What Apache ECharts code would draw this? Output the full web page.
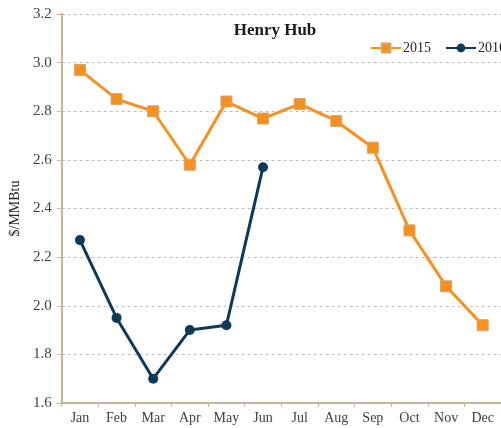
<!DOCTYPE html>
<html>
<head>
<meta charset="utf-8">
<script src="https://cdn.jsdelivr.net/npm/echarts@6/dist/echarts.min.js"></script>
<style>
  html, body { margin: 0; padding: 0; background: #fff; }
  #main { width: 501px; height: 428px; }
</style>
</head>
<body>
<div id="main"></div>
<script>
// 月份
var months = ["Jan", "Feb", "Mar", "Apr", "May", "Jun", "Jul", "Aug", "Sep", "Oct", "Nov", "Dec"];
// Henry Hub 价格 $/MMBtu
var price2015 = [2.97, 2.85, 2.80, 2.58, 2.84, 2.77, 2.83, 2.76, 2.65, 2.31, 2.08, 1.92];
var price2016 = [2.27, 1.95, 1.70, 1.90, 1.92, 2.57];
var yTicks = { min: 1.6, max: 3.2, interval: 0.2 };

var serif = "Liberation Serif";
var chart = echarts.init(document.getElementById("main"));

var legendText = { fontFamily: serif, fontSize: 14, color: "#262626", padding: [0, 0, 0, -3] };

var option = {
  animation: false,
  textStyle: { fontFamily: serif },
  title: {
    text: "Henry Hub",
    left: 270,
    textAlign: "center",
    top: 17,
    textStyle: { fontFamily: serif, fontSize: 17, fontWeight: "bold", color: "#1a1a1a" }
  },
  // 两个图例分开放，避免被挤成竖排
  legend: [
    {
      left: 365,
      top: 36,
      itemWidth: 30,
      itemHeight: 11,
      textStyle: legendText,
      data: ["2015"]
    },
    {
      left: 440,
      top: 36,
      itemWidth: 30,
      itemHeight: 11,
      textStyle: legendText,
      data: ["2016"]
    }
  ],
  grid: {
    left: 61,
    right: -6,
    top: 14,
    bottom: 25
  },
  xAxis: {
    type: "category",
    data: months,
    boundaryGap: true,
    axisLine: { lineStyle: { color: "#c8b49a", width: 2 } },
    axisTick: { show: true, length: 4, lineStyle: { color: "#c8b49a" } },
    axisLabel: { color: "#404040", fontFamily: serif, fontSize: 14, margin: 8 },
    splitLine: { show: false }
  },
  yAxis: {
    type: "value",
    min: yTicks.min,
    max: yTicks.max,
    interval: yTicks.interval,
    name: "$/MMBtu",
    nameLocation: "middle",
    nameGap: 30,
    nameTextStyle: { color: "#262626", fontFamily: serif, fontSize: 14 },
    axisLine: { show: true, lineStyle: { color: "#c8b49a", width: 2 } },
    axisTick: { show: true, length: 5, lineStyle: { color: "#c8b49a" } },
    axisLabel: {
      color: "#404040",
      fontFamily: serif,
      fontSize: 15,
      margin: 10,
      formatter: function (v) { return v.toFixed(1); }
    },
    splitLine: { show: true, lineStyle: { color: "#bdbdbd", type: [3, 3], width: 1 } }
  },
  series: [
    {
      name: "2015",
      type: "line",
      data: price2015,
      symbol: "rect",
      symbolSize: 11,
      lineStyle: { color: "#f7901e", width: 3 },
      itemStyle: { color: "#f7901e", borderColor: "#d9a46a", borderWidth: 1 }
    },
    {
      name: "2016",
      type: "line",
      data: price2016,
      symbol: "circle",
      symbolSize: 10,
      lineStyle: { color: "#0e3a5a", width: 3 },
      itemStyle: { color: "#0e3a5a" }
    }
  ]
};

chart.setOption(option);
</script>
</body>
</html>
